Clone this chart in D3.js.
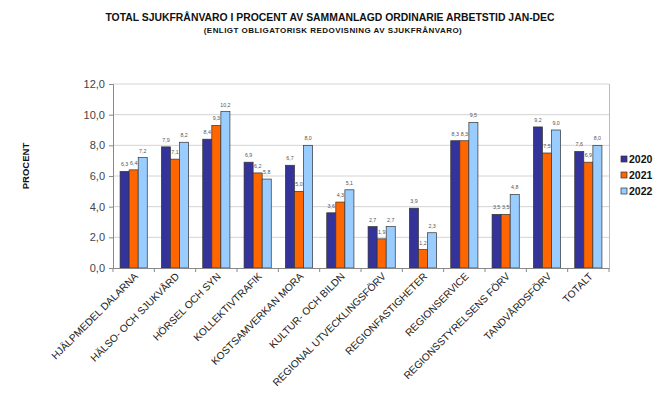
<!DOCTYPE html>
<html><head><meta charset="utf-8">
<script src="https://cdn.jsdelivr.net/npm/d3@7"></script>
<style>body{margin:0;background:#fff}svg{display:block}text{font-family:"Liberation Sans",Arial,sans-serif}</style>
</head><body><svg id="c" width="653" height="401"></svg>
<script>
const categories = ["HJÄLPMEDEL DALARNA","HÄLSO- OCH SJUKVÅRD","HÖRSEL OCH SYN","KOLLEKTIVTRAFIK","KOSTSAMVERKAN MORA","KULTUR- OCH BILDN","REGIONAL UTVECKLINGSFÖRV","REGIONFASTIGHETER","REGIONSERVICE","REGIONSSTYRELSENS FÖRV","TANDVÅRDSFÖRV","TOTALT"];
const seriesNames = ["2020","2021","2022"];
const v2020 = [6.3,7.9,8.4,6.9,6.7,3.6,2.7,3.9,8.3,3.5,9.2,7.6];
const v2021 = [6.4,7.1,9.3,6.2,5.0,4.3,1.9,1.2,8.3,3.5,7.5,6.9];
const v2022 = [7.2,8.2,10.2,5.8,8.0,5.1,2.7,2.3,9.5,4.8,9.0,8.0];
const yTicks = [0,2,4,6,8,10,12];
const colors = ["#333399","#FF6600","#99CCFF"];
const series = [v2020,v2021,v2022];

const svg = d3.select("#c");
const L=113,R=609,T=84,B=268;
const x = d3.scaleBand().domain(categories).range([L,R]).paddingInner(0).paddingOuter(0);
const xs = d3.scaleBand().domain(seriesNames).range([0,x.bandwidth()]).paddingInner(0).paddingOuter(0.78);
const y = d3.scaleLinear().domain([0,12]).range([B,T]);
const fmt = v => d3.format(".1f")(v).replace(".",",");

// gridlines
svg.append("g").selectAll("line").data(yTicks.filter(d=>d>0)).join("line")
  .attr("x1",L).attr("x2",R).attr("y1",d=>y(d)).attr("y2",d=>y(d))
  .attr("stroke","#d4d4d4").attr("stroke-width",1);
svg.append("line").attr("x1",R+0.5).attr("x2",R+0.5).attr("y1",T).attr("y2",B).attr("stroke","#bbbbbb");

// bars
const g = svg.append("g");
series.forEach((vals,si)=>{
  g.append("g").selectAll("rect").data(vals).join("rect")
    .attr("x",(d,i)=>x(categories[i])+xs(seriesNames[si]))
    .attr("y",d=>y(d)).attr("width",xs.bandwidth()).attr("height",d=>B-y(d))
    .attr("fill",colors[si]).attr("stroke","#333333").attr("stroke-width",0.7);
  g.append("g").selectAll("text").data(vals).join("text")
    .attr("x",(d,i)=>x(categories[i])+xs(seriesNames[si])+xs.bandwidth()/2)
    .attr("y",d=>y(d)-5).attr("text-anchor","middle")
    .attr("font-size",5.3).attr("fill","#555").text(d=>fmt(d));
});

// y axis
const ya = svg.append("g").attr("transform",`translate(${L},0)`)
  .call(d3.axisLeft(y).tickValues(yTicks).tickSize(4).tickPadding(4).tickFormat(fmt));
ya.select(".domain").attr("stroke","#888");
ya.selectAll(".tick line").attr("stroke","#888");
ya.selectAll("text").attr("font-size",11).attr("fill","#444").attr("font-family","Liberation Sans, Arial");

// x axis
const xa = svg.append("g").attr("transform",`translate(0,${B})`)
  .call(d3.axisBottom(x).tickSize(0).tickFormat(""));
xa.select(".domain").attr("stroke","#888");
svg.append("g").selectAll("line").data(categories.concat([null])).join("line")
  .attr("x1",(d,i)=>L+i*x.step()).attr("x2",(d,i)=>L+i*x.step())
  .attr("y1",B).attr("y2",B+4).attr("stroke","#888");
svg.append("g").selectAll("text").data(categories).join("text")
  .attr("transform",d=>`translate(${x(d)+x.bandwidth()/2+5},${B+9}) rotate(-45)`)
  .attr("text-anchor","end").attr("font-size",10.2).attr("fill","#222").text(d=>d);

// titles
svg.append("text").attr("x",330).attr("y",21).attr("text-anchor","middle")
  .attr("font-size",10.4).attr("font-weight","bold").attr("fill","#111")
  .text("TOTAL SJUKFRÅNVARO I PROCENT AV SAMMANLAGD ORDINARIE ARBETSTID JAN-DEC");
svg.append("text").attr("x",333).attr("y",33).attr("text-anchor","middle")
  .attr("font-size",8).attr("letter-spacing",0.45).attr("font-weight","bold").attr("fill","#111")
  .text("(ENLIGT OBLIGATORISK REDOVISNING AV SJUKFRÅNVARO)");
svg.append("text").attr("transform","translate(29,166) rotate(-90)").attr("text-anchor","middle")
  .attr("font-size",9.5).attr("font-weight","bold").attr("fill","#111").text("PROCENT");

// legend
const lg = svg.append("g").selectAll("g").data(seriesNames).join("g")
  .attr("transform",(d,i)=>`translate(621,${156+i*16})`);
lg.append("rect").attr("width",6).attr("height",6).attr("fill",(d,i)=>colors[i]).attr("stroke","#333").attr("stroke-width",0.7);
lg.append("text").attr("x",8).attr("y",7).attr("font-size",10.5).attr("font-weight","bold").attr("fill","#111").text(d=>d);
</script></body></html>
